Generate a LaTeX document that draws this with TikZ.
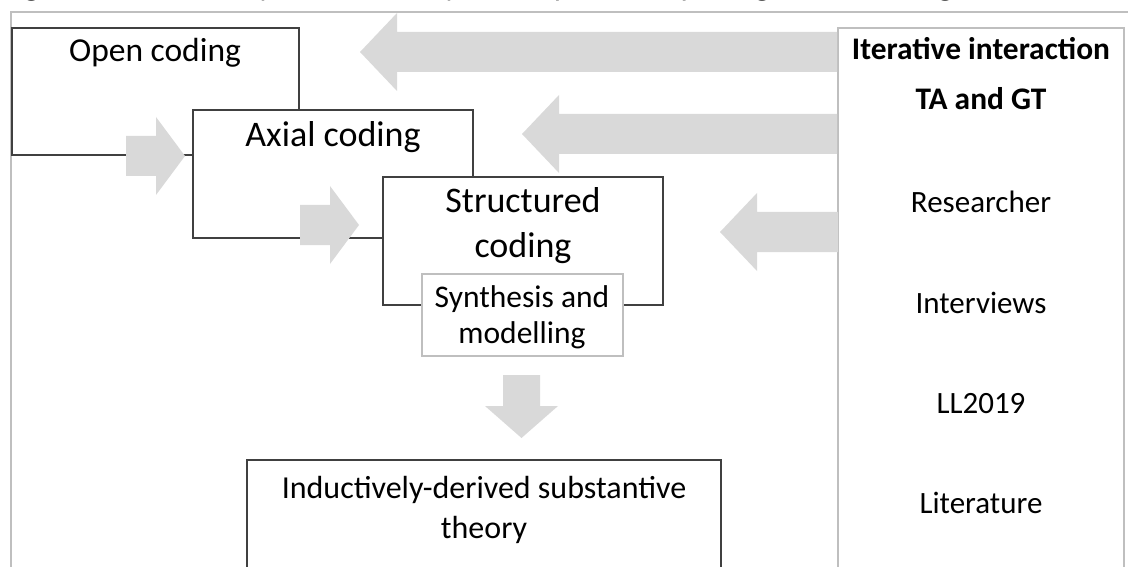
\documentclass[tikz,border=0pt]{standalone}
\usepackage{fontspec}
\setmainfont{Carlito}
\usepackage{tikz}
\definecolor{arrowgray}{HTML}{D9D9D9}
\definecolor{framegray}{HTML}{BFBFBF}
\definecolor{boxline}{HTML}{404040}

\begin{document}
\begin{tikzpicture}[x=1pt,y=-1pt,
    stagebox/.style={draw=boxline,line width=1.3pt,fill=white},
    sidebox/.style={draw=framegray,line width=1.3pt,fill=white},
    blockarrow/.style={fill=arrowgray},
    stagelbl/.style={font=\fontsize{36}{44}\selectfont,align=center,anchor=base,inner sep=0pt},
    sidelbl/.style={font=\fontsize{31}{36}\selectfont,anchor=base,inner sep=0pt}]
	\useasboundingbox (0,0) rectangle (1128,567);
	\clip (0,0) rectangle (1128,567);
	% Caption, cut off at the top
	\node[anchor=base east,inner sep=0pt,font=\fontsize{33}{36}\selectfont\itshape] (caption) at (985,-4) {Figure 3: Data analysis and theory development depicting iterative stages};
	% Outer frame
	\draw[framegray,line width=1.5pt] (11,600) -- (11,12) -- (1140,12);
	% Stages
	\draw[stagebox] (12,28) rectangle (299,155);
	\node[stagelbl,font=\fontsize{33.5}{40}\selectfont] (open) at (155,62) {Open coding};
	\draw[stagebox] (193,110) rectangle (473,238);
	\node[stagelbl] (axial) at (333,147) {Axial coding};
	\draw[stagebox] (383,177) rectangle (663,305);
	\node[stagelbl] (structured) at (523,257) {Structured\\coding};
	\draw[sidebox] (422,274) rectangle (623,356);
	\node[stagelbl,font=\fontsize{31.5}{36}\selectfont] (synthesis) at (522,343) {Synthesis and\\modelling};
	\draw[stagebox] (247,460) rectangle (721,600);
	\node[stagelbl,font=\fontsize{32}{40}\selectfont] (theory) at (484,538) {Inductively-derived substantive\\theory};
	% Side panel
	\draw[sidebox] (838,28) rectangle (1124,600);
	\node[sidelbl,font=\fontsize{31.4}{36}\selectfont\bfseries] (iter) at (981,60) {Iterative interaction};
	\node[sidelbl,font=\fontsize{31.4}{36}\selectfont\bfseries] (tagt) at (981,110) {TA and GT};
	\node[sidelbl] (researcher) at (981,212) {Researcher};
	\node[sidelbl] (interviews) at (981,313) {Interviews};
	\node[sidelbl] (ll) at (981,413) {LL2019};
	\node[sidelbl] (literature) at (981,513) {Literature};
	% Arrows from the side panel
	\foreach \tx/\cy/\ex in {360/52/837, 522/134/837, 720/232/838}
		\fill[blockarrow] (\tx,\cy) -- (\tx+37,\cy-39) -- (\tx+37,\cy-20) -- (\ex,\cy-20)
			-- (\ex,\cy+20) -- (\tx+37,\cy+20) -- (\tx+37,\cy+39) -- cycle;
	% Arrows between stages
	\foreach \sx/\cy in {126/156, 300/225}
		\fill[blockarrow] (\sx+59,\cy) -- (\sx+30,\cy-39) -- (\sx+30,\cy-20) -- (\sx,\cy-20)
			-- (\sx,\cy+20) -- (\sx+30,\cy+20) -- (\sx+30,\cy+39) -- cycle;
	% Down arrow
	\fill[blockarrow] (521.5,438) -- (485,406) -- (503,406) -- (503,375) -- (540,375) -- (540,406) -- (558,406) -- cycle;
\end{tikzpicture}
\end{document}
